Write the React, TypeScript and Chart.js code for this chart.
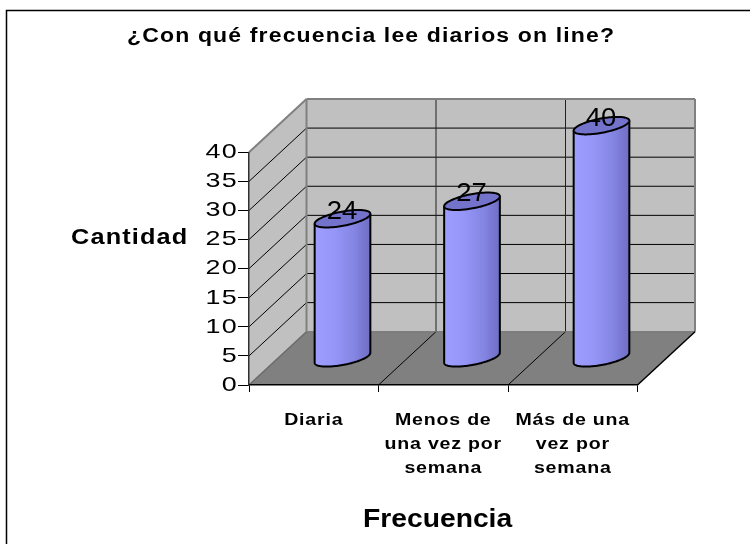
import React, { useEffect, useRef } from 'react';
import { Chart, registerables } from 'chart.js';

Chart.register(...registerables);

// ---- data ----
const TITLE = '¿Con qué frecuencia lee diarios on line?';
const Y_TITLE = 'Cantidad';
const X_TITLE = 'Frecuencia';
const CATEGORIES: string[][] = [
  ['Diaria'],
  ['Menos de', 'una vez por', 'semana'],
  ['Más de una', 'vez por', 'semana'],
];
const VALUES: number[] = [24, 27, 40];
const Y_MIN = 0;
const Y_MAX = 40;
const Y_STEP = 5;

// ---- style ----
const FONT = "'Liberation Sans', Arial, Helvetica, sans-serif";
const DX = 57.5;
const DY = -53.3;

function line(ctx: CanvasRenderingContext2D, x1: number, y1: number, x2: number, y2: number, color: string, w: number) {
  ctx.beginPath();
  ctx.moveTo(x1, y1);
  ctx.lineTo(x2, y2);
  ctx.strokeStyle = color;
  ctx.lineWidth = w;
  ctx.stroke();
}

function poly(ctx: CanvasRenderingContext2D, pts: number[][], fill: string) {
  ctx.beginPath();
  ctx.moveTo(pts[0][0], pts[0][1]);
  for (let i = 1; i < pts.length; i++) ctx.lineTo(pts[i][0], pts[i][1]);
  ctx.closePath();
  ctx.fillStyle = fill;
  ctx.fill();
}

function wideText(ctx: CanvasRenderingContext2D, text: string, x: number, y: number, sx: number, spacing: string, font: string, align: CanvasTextAlign) {
  ctx.save();
  ctx.font = font;
  (ctx as any).letterSpacing = spacing;
  ctx.textAlign = align;
  ctx.textBaseline = 'alphabetic';
  ctx.fillStyle = '#000';
  ctx.translate(x, y);
  ctx.scale(sx, 1);
  ctx.fillText(text, 0, 0);
  ctx.restore();
}

function drawCylinder(ctx: CanvasRenderingContext2D, cx: number, topY: number, baseY: number, R: number) {
  const A = 0.823 * R;
  const bx = 0.568 * R;
  const by = -0.314 * R;
  const th0 = Math.atan2(bx, A);
  const pt = (cy: number, t: number) => [cx + A * Math.cos(t) + bx * Math.sin(t), cy + by * Math.sin(t)];
  const N = 60;

  const body = new Path2D();
  let p = pt(topY, th0 + Math.PI);
  body.moveTo(p[0], p[1]);
  p = pt(baseY, th0 + Math.PI);
  body.lineTo(p[0], p[1]);
  for (let k = 1; k <= N; k++) {
    p = pt(baseY, th0 + Math.PI + (Math.PI * k) / N);
    body.lineTo(p[0], p[1]);
  }
  p = pt(topY, th0);
  body.lineTo(p[0], p[1]);
  for (let k = 1; k <= N; k++) {
    p = pt(topY, th0 + (Math.PI * k) / N);
    body.lineTo(p[0], p[1]);
  }
  body.closePath();
  const g = ctx.createLinearGradient(cx - R, 0, cx + R, 0);
  g.addColorStop(0, '#9e9eff');
  g.addColorStop(0.35, '#9696f8');
  g.addColorStop(0.7, '#8585e4');
  g.addColorStop(1, '#6e6ec4');
  ctx.fillStyle = g;
  ctx.fill(body);

  const out = new Path2D();
  p = pt(topY, th0 + Math.PI);
  out.moveTo(p[0], p[1]);
  p = pt(baseY, th0 + Math.PI);
  out.lineTo(p[0], p[1]);
  for (let k = 1; k <= N; k++) {
    p = pt(baseY, th0 + Math.PI + (Math.PI * k) / N);
    out.lineTo(p[0], p[1]);
  }
  p = pt(topY, th0);
  out.lineTo(p[0], p[1]);
  ctx.strokeStyle = '#000';
  ctx.lineWidth = 2;
  ctx.lineJoin = 'round';
  ctx.stroke(out);

  const top = new Path2D();
  for (let k = 0; k <= 2 * N; k++) {
    p = pt(topY, (Math.PI * k) / N);
    if (k === 0) top.moveTo(p[0], p[1]);
    else top.lineTo(p[0], p[1]);
  }
  top.closePath();
  ctx.fillStyle = '#7373cc';
  ctx.fill(top);
  ctx.stroke(top);
}

const excel3d = {
  id: 'excel3d',
  afterLayout(chart: any) {
    const patch = (scale: any, spacing: string, sx: number) => {
      if (!scale || scale.__patched) return;
      const origDraw = scale.drawLabels.bind(scale);
      scale.drawLabels = (area: any) => {
        const c: any = chart.ctx;
        const origFill = c.fillText;
        c.save();
        c.letterSpacing = spacing;
        c.fillText = function (text: string, x: number, y: number) {
          this.save();
          this.translate(x, y);
          this.scale(sx, 1);
          origFill.call(this, text, 0, 0);
          this.restore();
        };
        try {
          origDraw(area);
        } finally {
          delete c.fillText;
          c.restore();
        }
      };
      scale.__patched = true;
    };
    patch(chart.scales.x, '0.7px', 1.15);
    patch(chart.scales.y, '1px', 1.28);
  },
  beforeDraw(chart: any) {
    const ctx: CanvasRenderingContext2D = chart.ctx;
    const { left, right, top, bottom } = chart.chartArea;
    const ys = chart.scales.y;
    const xs = chart.scales.x;
    ctx.save();

    // frame
    ctx.beginPath();
    ctx.moveTo(6.5, 560);
    ctx.lineTo(6.5, 10.5);
    ctx.lineTo(770, 10.5);
    ctx.strokeStyle = '#000';
    ctx.lineWidth = 1.5;
    ctx.stroke();

    // walls and floor
    poly(ctx, [[left + DX, top + DY], [right + DX, top + DY], [right + DX, bottom + DY], [left + DX, bottom + DY]], '#c0c0c0');
    poly(ctx, [[left, bottom], [left, top], [left + DX, top + DY], [left + DX, bottom + DY]], '#c0c0c0');
    poly(ctx, [[left, bottom], [right, bottom], [right + DX, bottom + DY], [left + DX, bottom + DY]], '#808080');

    // gridlines
    const ticks = ys.ticks;
    for (let i = 1; i < ticks.length - 1; i++) {
      const py = ys.getPixelForValue(ticks[i].value);
      line(ctx, left + DX, py + DY, right + DX, py + DY, '#000', 1);
      line(ctx, left, py, left + DX, py + DY, '#000', 1);
    }
    // category dividers
    for (let i = 1; i < CATEGORIES.length; i++) {
      const bx = xs.getPixelForValue(i - 0.5);
      line(ctx, bx + DX, top + DY, bx + DX, bottom + DY, '#202020', 1);
      line(ctx, bx, bottom, bx + DX, bottom + DY, '#000', 1);
    }
    // wall borders
    line(ctx, left + DX, top + DY, right + DX, top + DY, '#808080', 2);
    line(ctx, right + DX, top + DY, right + DX, bottom + DY, '#808080', 2);
    line(ctx, left + DX, top + DY, left + DX, bottom + DY, '#808080', 2);
    line(ctx, left, top, left + DX, top + DY, '#808080', 2);
    line(ctx, left, bottom, left + DX, bottom + DY, '#6a6a6a', 1.5);
    line(ctx, left + DX, bottom + DY, right + DX, bottom + DY, '#707070', 1);
    line(ctx, right, bottom, right + DX, bottom + DY, '#000', 1.5);
    ctx.restore();

    // titles
    wideText(ctx, TITLE, 127, 41.5, 1.15, '1px', `bold 20px ${FONT}`, 'left');
    wideText(ctx, Y_TITLE, 71, 243.5, 1.15, '1px', `bold 22px ${FONT}`, 'left');
    wideText(ctx, X_TITLE, 363, 526.5, 1.13, '0px', `bold 25px ${FONT}`, 'left');
  },
  afterDatasetsDraw(chart: any) {
    const ctx: CanvasRenderingContext2D = chart.ctx;
    const meta = chart.getDatasetMeta(0);
    ctx.save();
    meta.data.forEach((el: any) => {
      const { x, y, base, width } = el.getProps(['x', 'y', 'base', 'width'], true);
      drawCylinder(ctx, x + DX / 2, y + DY / 2, base + DY / 2, width / 2);
    });
    ctx.restore();
    meta.data.forEach((el: any, i: number) => {
      const { x, y } = el.getProps(['x', 'y'], true);
      wideText(ctx, String(VALUES[i]), x + DX / 2 - 0.5, y + DY / 2, 1.1, '0px', `25px ${FONT}`, 'center');
    });
  },
};

export default function App() {
  const ref = useRef<HTMLCanvasElement | null>(null);
  useEffect(() => {
    if (!ref.current) return;
    Chart.defaults.font.family = FONT;
    const chart = new Chart(ref.current, {
      type: 'bar',
      data: {
        labels: CATEGORIES,
        datasets: [
          {
            data: VALUES,
            backgroundColor: 'rgba(0,0,0,0)',
            borderWidth: 0,
            barPercentage: 0.43,
            categoryPercentage: 1,
          },
        ],
      },
      options: {
        animation: false,
        responsive: true,
        maintainAspectRatio: false,
        events: [],
        layout: { padding: { left: 0, top: 152.3, right: 112.5, bottom: 59 } },
        plugins: {
          legend: { display: false },
          title: { display: false },
          tooltip: { enabled: false },
        },
        scales: {
          x: {
            grid: { display: true, drawOnChartArea: false, drawTicks: true, tickLength: 7, color: '#000', offset: true },
            border: { display: true, color: '#000', width: 1.5 },
            ticks: {
              color: '#000',
              padding: 16,
              maxRotation: 0,
              autoSkip: false,
              font: { family: FONT, size: 17, weight: 'bold', lineHeight: '24px' },
            },
            afterFit: (s: any) => {
              s.height = 100;
            },
          },
          y: {
            min: Y_MIN,
            max: Y_MAX,
            grid: { display: true, drawOnChartArea: false, drawTicks: true, tickLength: 11, color: '#000' },
            border: { display: true, color: '#303030', width: 1.5 },
            ticks: {
              stepSize: Y_STEP,
              color: '#000',
              padding: 0,
              font: { family: FONT, size: 21 },
            },
            afterFit: (s: any) => {
              s.width = 249;
            },
          },
        },
      },
      plugins: [excel3d],
    } as any);
    return () => chart.destroy();
  }, []);
  return (
    <div style={{ position: 'absolute', left: 0, top: 0, width: 750, height: 544, background: '#fff' }}>
      <canvas ref={ref} />
    </div>
  );
}
